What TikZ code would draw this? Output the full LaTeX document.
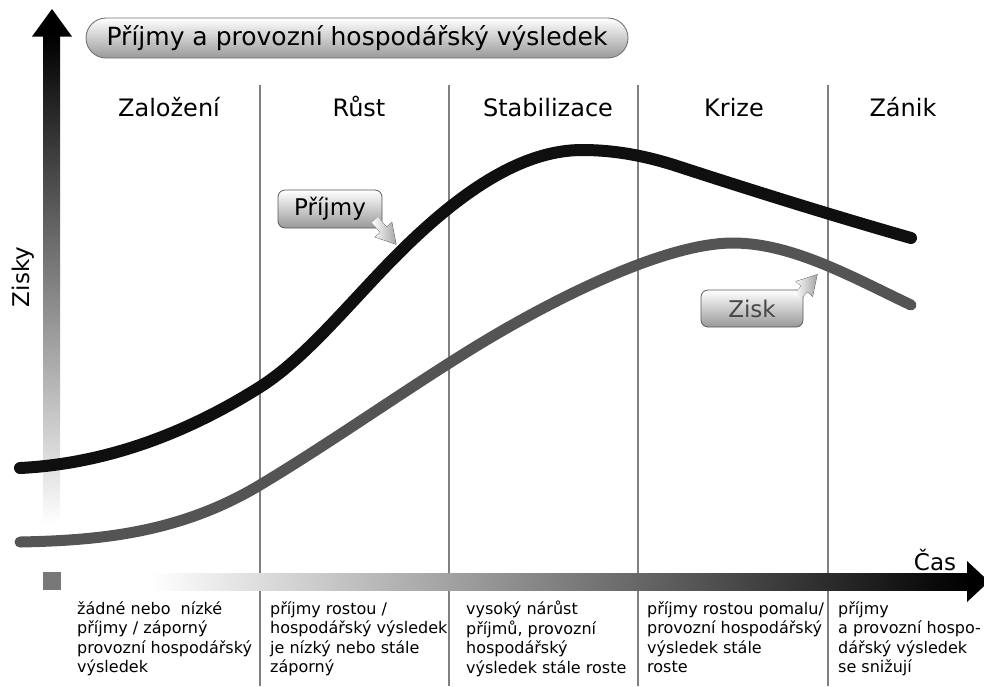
\documentclass[tikz,border=0pt]{standalone}
\usepackage{fontspec}
\setmainfont{DejaVu Sans}
\usetikzlibrary{calc}
% block arrow outline: tail x, tail y, angle, length
\newcommand\arrowoutline[4]{%
  (#1,#2) ++(#3-90:4) -- ++(#3:#4-19) -- ++(#3-90:7) -- ($(#1,#2)+(#3:#4)$)
  -- ($(#1,#2)+(#3:#4-19)+(#3+90:11)$) -- ++(#3-90:7) -- ($(#1,#2)+(#3+90:4)$) -- cycle}
\begin{document}
\begin{tikzpicture}[x=1pt,y=-1pt,
  sep/.style={draw=black!50, line width=1.1pt},
  phase/.style={font=\fontsize{24}{28}\selectfont, anchor=base, inner sep=0pt},
  desc/.style={font=\fontsize{16}{19.5}\selectfont, align=left, anchor=north west, inner sep=0pt},
  pill/.style={draw=black!55, line width=0.9pt, rounded corners=20pt,
    top color=white, middle color=white, bottom color=black!40,
    minimum width=542pt, minimum height=40pt, inner sep=0pt,
    font=\fontsize{25}{30}\selectfont},
  callout/.style={draw=black!65, line width=0.8pt, rounded corners=7pt,
    top color=white, middle color=white!92!black, bottom color=black!40,
    inner sep=0pt, font=\fontsize{23}{28}\selectfont},
  calloutarrow/.style={left color=white, right color=black!35},
  curve/.style={line cap=round, line join=round},
  axislabel/.style={font=\fontsize{23}{28}\selectfont, inner sep=0pt}]
\useasboundingbox (0,0) rectangle (984,686);

% phase separators
\foreach \x/\n in {260/s1, 449/s2, 638/s3, 828/s4}
  \draw[sep] (\x,85) coordinate (\n top) -- (\x,686) coordinate (\n bot);

% vertical axis
\shade[top color=black, bottom color=white] (43,36) rectangle (60,524);
\fill[black] (32,36.5) -- (52,9) coordinate (ytip) -- (72,36.5) -- cycle;
\fill[black!53] (43,572) rectangle (61,590);
\node[axislabel, rotate=90] (ylabel) at (23,277) {Zisky};

% horizontal axis
\shade[left color=white, right color=black] (150,573) rectangle (968,590);
\fill[black] (967,561) -- (989,581.5) coordinate (xtip) -- (967,602) -- cycle;
\node[axislabel, anchor=base] (xlabel) at (935,570) {Čas};

% profit curve
\draw[curve, line width=11pt, draw=black!67]
  (20,542) .. controls (100,540.4) and (180,533) .. (260,485)
  .. controls (330,443) and (400,393.4) .. (470,350)
  .. controls (540,306.6) and (660,243) .. (733,243)
  .. controls (792,243) and (852,277) .. (911,305);
% revenue curve
\draw[curve, line width=12pt, draw=black!94]
  (20,468) .. controls (100,464) and (180,437.4) .. (260,387)
  .. controls (306,358) and (352,300) .. (398,254)
  .. controls (459,193) and (521,150) .. (582,150)
  .. controls (615,150) and (647,156) .. (680,167)
  .. controls (757,192) and (834,216) .. (911,238);

% title
\node[pill] (title) at (357,38) {Příjmy a provozní hospodářský výsledek};

% phase names
\node[phase] (p1) at (169,116) {Založení};
\node[phase] (p2) at (359,116) {Růst};
\node[phase] (p3) at (548,116) {Stabilizace};
\node[phase] (p4) at (734,116) {Krize};
\node[phase] (p5) at (903,116) {Zánik};

% callout: Příjmy
\shade[calloutarrow, draw=black!65, line width=0.8pt] \arrowoutline{375}{220}{49}{32};
\node[callout, minimum width=104pt, minimum height=38pt] (prijmy) at (330,209) {Příjmy};
\shade[calloutarrow] \arrowoutline{375}{220}{49}{32};

% callout: Zisk
\shade[calloutarrow, draw=black!65, line width=0.8pt] \arrowoutline{797}{297}{-48}{30};
\node[callout, minimum width=102pt, minimum height=37pt, text=black!72] (zisk) at (752,308.5) {Zisk};
\shade[calloutarrow] \arrowoutline{797}{297}{-48}{30};

% phase descriptions
\node[desc] (d1) at (77,601) {žádné nebo~ nízké\\příjmy / záporný\\provozní hospodářský\\výsledek};
\node[desc] (d2) at (270,601) {příjmy rostou /\\hospodářský výsledek\\je nízký nebo stále\\záporný};
\node[desc] (d3) at (466,601) {vysoký nárůst\\příjmů, provozní\\hospodářský\\výsledek stále roste};
\node[desc] (d4) at (647,601) {příjmy rostou pomalu/\\provozní hospodářský\\výsledek stále\\roste};
\node[desc] (d5) at (838,601) {příjmy\\a provozní hospo-\\dářský výsledek\\se snižují};
\end{tikzpicture}
\end{document}
